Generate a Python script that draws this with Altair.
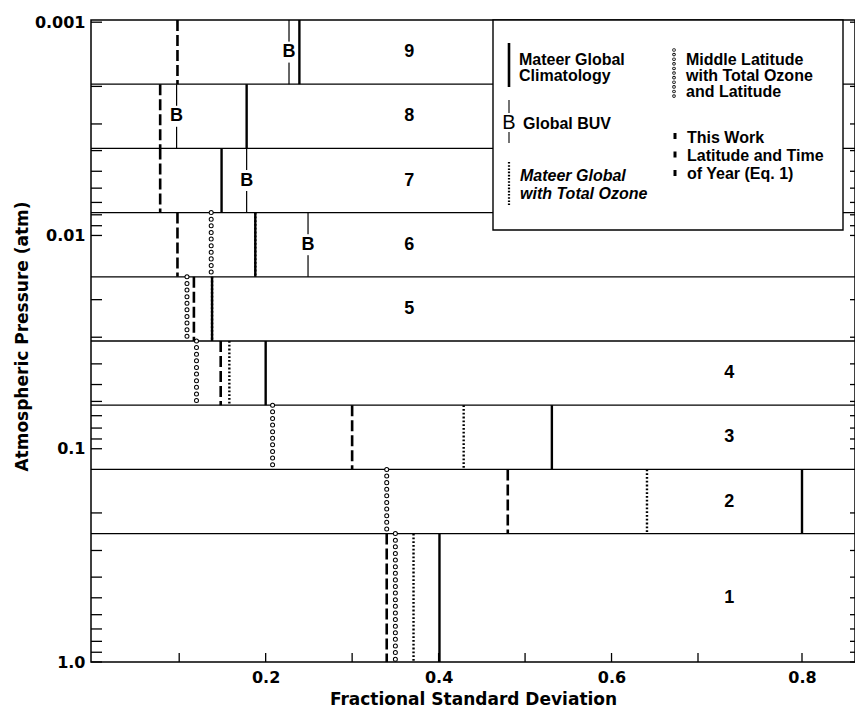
import altair as alt
import pandas as pd

# ---------------- data ----------------
bands = [1, 2, 3, 4, 5, 6, 7, 8, 9]
# layer boundaries in atm (Umkehr layers, factor-of-two pressure steps)
p_top = [0.25, 0.125, 0.0625, 0.03125, 0.015625, 0.0078125, 0.00390625, 0.001953125, 0.0009765625]
p_bottom = [1.0, 0.25, 0.125, 0.0625, 0.03125, 0.015625, 0.0078125, 0.00390625, 0.001953125]
layer_boundaries = [0.25, 0.125, 0.0625, 0.03125, 0.015625, 0.0078125, 0.00390625, 0.001953125]

# fractional standard deviation per layer (None = not shown)
mateer_global = [0.401, 0.800, 0.531, 0.200, 0.138, 0.188, 0.149, 0.178, 0.239]
global_buv = [None, None, None, None, None, 0.249, 0.178, 0.097, 0.227]
mateer_ozone = [0.371, 0.641, 0.429, 0.158, 0.138, 0.188, None, None, None]
mid_latitude = [0.350, 0.340, 0.208, 0.120, 0.109, 0.137, None, None, None]
this_work = [0.340, 0.480, 0.300, 0.148, 0.117, 0.098, 0.078, 0.078, 0.098]

band_label_x = [0.73, 0.73, 0.73, 0.73, 0.366, 0.366, 0.366, 0.366, 0.366]

x_tick_values = [0.1, 0.2, 0.3, 0.4, 0.5, 0.6, 0.7, 0.8]
x_label_values = [0.2, 0.4, 0.6, 0.8]
y_tick_values = [0.001, 0.002, 0.003, 0.004, 0.005, 0.006, 0.007, 0.008, 0.009,
                 0.01, 0.02, 0.03, 0.04, 0.05, 0.06, 0.07, 0.08, 0.09,
                 0.1, 0.2, 0.3, 0.4, 0.5, 0.6, 0.7, 0.8, 0.9, 1.0]
y_label_values = [0.001, 0.01, 0.1, 1.0]

legend_solid_text = ["Mateer Global", "Climatology"]
legend_buv_text = "Global BUV"
legend_dotted_text = ["Mateer Global", "with Total Ozone"]
legend_circle_text = ["Middle Latitude", "with Total Ozone", "and Latitude"]
legend_dashed_text = ["This Work", "Latitude and Time", "of Year (Eq. 1)"]

# ---------------- chart ----------------
FONT = "Liberation Sans"
AXFONT = "DejaVu Sans"
W, H = 764, 642

xs = alt.Scale(type="linear", domain=[-0.002, 0.7, 0.8, 0.851],
               range=[0, 607, 711, W], nice=False, zero=False)
ys = alt.Scale(type="log", domain=[2 ** -10, 1.0], reverse=True, nice=False)


def seg_df(vals):
    rows = [dict(band=b, x=v, top=t, bottom=bo)
            for b, v, t, bo in zip(bands, vals, p_top, p_bottom) if v is not None]
    return pd.DataFrame(rows)


def X(f="x"):
    return alt.X(f"{f}:Q", scale=xs, axis=None)


def Y(f):
    return alt.Y(f"{f}:Q", scale=ys, axis=None)


def segments(vals, **mk):
    return alt.Chart(seg_df(vals)).mark_rule(**mk).encode(
        x=X(), y=Y("top"), y2=alt.Y2("bottom"))


one = pd.DataFrame({"k": [0]})

bound_lines = alt.Chart(pd.DataFrame({"p": layer_boundaries})).mark_rule(
    color="black", strokeWidth=1.3).encode(y=Y("p"), x=alt.value(0), x2=alt.value(W))

legend_box = alt.Chart(one).mark_rect(fill="white", stroke="black", strokeWidth=1.4).encode(
    x=alt.value(402), x2=alt.value(752), y=alt.value(0), y2=alt.value(210))

x_ticks = alt.Chart(pd.DataFrame({"v": x_tick_values})).mark_rule(
    color="black", strokeWidth=1.3).encode(
    x=alt.X("v:Q", scale=xs, axis=alt.Axis(
        values=x_label_values, format=".1f", title="Fractional Standard Deviation",
        tickSize=0, domain=False, grid=False, labelFlush=False,
        labelFont=AXFONT, labelFontSize=16, labelFontWeight="bold", labelColor="black",
        labelPadding=7, titleFont=AXFONT, titleFontSize=17, titleFontWeight="bold",
        titleColor="black", titleY=42, titleBaseline="alphabetic")),
    y=alt.value(H), y2=alt.value(H - 9))

y_ticks_left = alt.Chart(pd.DataFrame({"v": y_tick_values})).mark_rule(
    color="black", strokeWidth=1.3).encode(
    y=alt.Y("v:Q", scale=ys, axis=alt.Axis(
        values=y_label_values,
        labelExpr="datum.value >= 1 ? '1.0' : format(datum.value, '~g')",
        title="Atmospheric Pressure (atm)", tickSize=0, domain=False, grid=False,
        labelFlush=False, labelPadding=6, labelFont=AXFONT, labelFontSize=16,
        labelFontWeight="bold", labelColor="black", titleFont=AXFONT, titleFontSize=17,
        titleFontWeight="bold", titleColor="black", titleX=-64, titleY=316,
        titleBaseline="alphabetic", titleAngle=270)),
    x=alt.value(0), x2=alt.value(11))

y_ticks_right = alt.Chart(pd.DataFrame({"v": y_tick_values})).mark_rule(
    color="black", strokeWidth=1.3).encode(y=Y("v"), x=alt.value(W - 5), x2=alt.value(W))

buv_df = seg_df(global_buv)
buv_line = segments(global_buv, color="black", strokeWidth=1.2)
buv_mask = alt.Chart(buv_df).transform_calculate(
    mid="sqrt(datum.top*datum.bottom)").mark_point(
    shape="M-0.8,-1H0.8V1H-0.8Z", filled=True, color="white", opacity=1,
    strokeWidth=0, size=441).encode(x=X(), y=Y("mid"))
buv_b = alt.Chart(buv_df).transform_calculate(
    mid="sqrt(datum.top*datum.bottom)").mark_text(
    font=FONT, fontSize=18, fontWeight="bold", color="black",
    baseline="middle", align="center").encode(x=X(), y=Y("mid"), text=alt.value("B"))

dotted = segments(mateer_ozone, color="black", strokeWidth=2.4, strokeDash=[1.8, 2.0])
circ_outer = segments(mid_latitude, color="black", strokeWidth=5,
                      strokeDash=[0.01, 6.6], strokeCap="round")
circ_inner = segments(mid_latitude, color="white", strokeWidth=3,
                      strokeDash=[0.01, 6.6], strokeCap="round")
dashed = segments(this_work, color="black", strokeWidth=2.6, strokeDash=[11, 4])
solid = segments(mateer_global, color="black", strokeWidth=2.4)

band_labels = alt.Chart(pd.DataFrame({"band": bands, "top": p_top, "bottom": p_bottom,
                                      "lx": band_label_x})).transform_calculate(
    mid="sqrt(datum.top*datum.bottom)").mark_text(
    font=FONT, fontSize=18, fontWeight="bold", color="black", baseline="middle",
    align="center").encode(x=alt.X("lx:Q", scale=xs, axis=None), y=Y("mid"), text="band:N")


def lrule(x, y1, y2, **mk):
    return alt.Chart(one).mark_rule(**mk).encode(
        x=alt.value(x), y=alt.value(y1), y2=alt.value(y2))


def ltext(x, y, txt, lh=16, style="normal"):
    return alt.Chart(one).mark_text(
        font=FONT, fontSize=16, fontWeight="bold", fontStyle=style, color="black",
        align="left", baseline="alphabetic", lineHeight=lh).encode(
        x=alt.value(x), y=alt.value(y), text=alt.value(txt))


leg = [
    lrule(418, 23, 67, color="black", strokeWidth=2.6),
    ltext(428, 45, legend_solid_text, 16),
    lrule(418, 80, 123, color="black", strokeWidth=1.1),
    alt.Chart(one).mark_point(shape="M-0.7,-1H0.7V1H-0.7Z", filled=True, color="white",
                              opacity=1, strokeWidth=0, size=361).encode(
        x=alt.value(418), y=alt.value(102.5)),
    alt.Chart(one).mark_text(font=FONT, fontSize=20, color="black", align="center",
                             baseline="middle").encode(
        x=alt.value(418), y=alt.value(103), text=alt.value("B")),
    ltext(432, 109, legend_buv_text),
    lrule(418, 142, 185, color="black", strokeWidth=2.2, strokeDash=[1.6, 1.6]),
    ltext(429, 161, legend_dotted_text, 17.5, "italic"),
    lrule(583, 30, 77, color="black", strokeWidth=3.6, strokeDash=[0.01, 4.6], strokeCap="round"),
    lrule(583, 30, 77, color="white", strokeWidth=1.8, strokeDash=[0.01, 4.6], strokeCap="round"),
    ltext(595, 45, legend_circle_text, 16),
    lrule(584, 113, 157, color="black", strokeWidth=3, strokeDash=[6, 12.5]),
    ltext(596, 123, legend_dashed_text, 18),
]

chart = alt.layer(
    bound_lines, legend_box, x_ticks, y_ticks_left, y_ticks_right,
    buv_line, buv_mask, buv_b, dotted, circ_outer, circ_inner, dashed, solid,
    band_labels, *leg
).resolve_axis(
    x="independent", y="independent"
).properties(
    width=W, height=H,
    autosize=alt.AutoSizeParams(type="none"),
    padding={"left": 83, "top": 12, "right": 0, "bottom": 46},
    background="white",
).configure_view(stroke="black", strokeWidth=1.5)

chart.save("out.html", embed_options={"renderer": "svg", "actions": False})
